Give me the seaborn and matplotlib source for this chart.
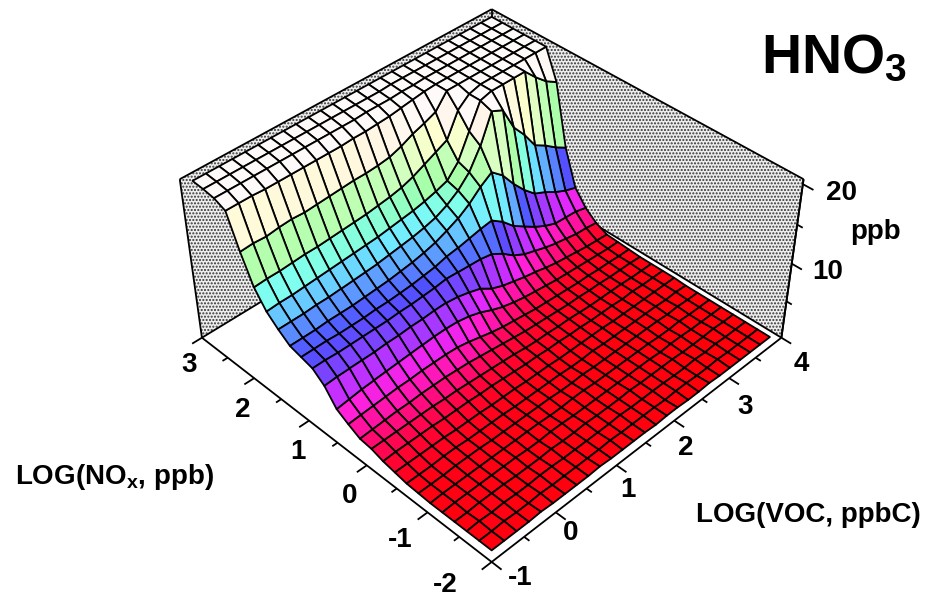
import numpy as np
import matplotlib
matplotlib.use("Agg")
import matplotlib.pyplot as plt
import seaborn as sns
from mpl_toolkits.mplot3d import proj3d
from mpl_toolkits.mplot3d.art3d import Poly3DCollection

voc_start, voc_stop = -0.9, 3.9
nox_start, nox_stop = -1.9, 2.9
voc_ticks = [-1, 0, 1, 2, 3, 4]
nox_ticks = [-2, -1, 0, 1, 2, 3]
z_ticks = [10, 20]

r00 = [.2,.2,.2,.2,.3,.2,.2,.2,.2,.3,.2,.2,.2,.2,.1,.2,.2,.1,.1,.2,.1,.1,.1,.1,.1,.1]
r01 = [.2,.2,.3,.2,.2,.3,.2,.2,.2,.2,.2,.3,.2,.2,.2,.2,.1,.2,.2,.1,.1,.2,.1,.1,.1,.1]
r02 = [.2,.3,.2,.3,.2,.2,.3,.3,.2,.2,.2,.2,.2,.3,.2,.2,.2,.2,.1,.1,.2,.1,.2,.1,.1,.1]
r03 = [.2,.2,.3,.3,.3,.2,.2,.2,.3,.2,.2,.3,.2,.2,.2,.3,.2,.2,.2,.2,.1,.1,.1,.2,.1,.1]
r04 = [.2,.3,.3,.3,.3,.3,.3,.2,.2,.3,.3,.2,.2,.2,.2,.2,.2,.2,.2,.1,.2,.2,.1,.1,.1,.1]
r05 = [.2,.3,.3,.3,.3,.3,.3,.3,.3,.3,.2,.2,.3,.3,.2,.2,.2,.2,.2,.2,.1,.1,.2,.1,.1,.1]
r06 = [.3,.3,.3,.4,.4,.4,.3,.3,.3,.3,.3,.3,.2,.2,.3,.2,.2,.2,.2,.2,.2,.2,.1,.2,.1,.1]
r07 = [.4,.4,.4,.5,.5,.4,.4,.4,.4,.3,.3,.3,.3,.3,.2,.2,.3,.2,.2,.2,.2,.2,.2,.1,.2,.1]
r08 = [.7,.7,.7,.7,.7,.6,.6,.6,.5,.5,.5,.4,.4,.4,.3,.3,.3,.3,.3,.2,.2,.2,.2,.2,.2,.2]
r09 = [1,1.1,1.1,1.1,1.1,1,1,1,.9,.9,.8,.7,.6,.6,.5,.5,.4,.4,.3,.3,.3,.2,.3,.2,.2,.2]
r10 = [1.5,1.5,1.5,1.5,1.5,1.5,1.4,1.4,1.3,1.2,1.1,1,.9,.7,.6,.6,.5,.5,.4,.3,.3,.3,.3,.2,.2,.2]
r11 = [1.7,1.8,1.9,2,2,2.1,2.1,2.1,2,1.9,1.7,1.5,1.3,1.1,.9,.8,.7,.6,.5,.5,.4,.4,.3,.3,.3,.2]
r12 = [2.5,2.6,2.7,2.8,2.9,2.9,3,3,3,2.9,2.6,2.2,1.8,1.5,1.3,1.1,.9,.8,.7,.6,.5,.5,.4,.4,.3,.3]
r13 = [3.4,3.6,3.8,3.9,4,4.1,4.2,4.3,4.4,4.4,4.3,4,3.5,2.8,2.2,1.8,1.5,1.3,1.1,.9,.8,.7,.6,.5,.4,.4]
r14 = [5.4,5.5,5.5,5.5,5.5,5.6,5.6,5.7,5.7,5.8,5.8,5.6,5.2,4.7,3.7,3.1,2.7,2.3,2,1.6,1.3,1.1,.9,.7,.6,.5]
r15 = [6.6,6.6,6.5,6.5,6.5,6.5,6.5,6.6,6.6,6.7,6.8,7,6.9,6.8,6.7,6.4,5.5,4.3,3.5,3,2.5,2.1,1.8,1.5,1.4,1.2]
r16 = [7,7,7,6.9,6.9,6.9,7,7,7.1,7.2,7.4,7.6,8,8.2,8.5,8.8,9,7.9,6.4,5.4,4.4,3.6,3,2.9,2.8,2.4]
r17 = [7.4,7.4,7.4,7.5,7.5,7.5,7.6,7.7,7.8,8,8.2,8.5,8.9,9.5,10.2,11.2,12.5,13.5,12.2,10.2,8.5,7.1,6.4,5.5,4.8,4.3]
r18 = [8.5,8.5,8.5,8.6,8.6,8.7,8.8,8.9,9,9.2,9.4,9.6,9.9,10.3,11,12,13.5,16,19.5,18.8,15.8,14,11.8,10.9,9.8,8.9]
r19 = [9.8,9.9,9.9,10,10.1,10.2,10.3,10.4,10.5,10.6,10.8,11,11.2,11.5,11.9,12.4,14,17,20,20.4,20.4,20.4,20.4,18.9,17.6,16.7]
r20 = [11.9,12,12,12.1,12.2,12.2,12.3,12.4,12.5,12.6,12.8,13,13.3,13.8,14.5,15.2,15.9,18.8,20,20.4,20.4,20.4,20.4,20.4,20.4,20.4]
r21 = [15.4,15.5,15.4,15.6,15.7,15.6,15.7,15.8,15.9,16,16,16.1,16.3,16.8,17.5,18,18.6,20.4,20.4,20.4,20.4,20.4,20.4,20.4,20.4,20.4]
r22 = [19.5,19.5,19.5,19.4,19.4,19.4,19.4,19.4,19.4,19.4,19.5,19.5,19.6,19.7,19.9,20.1,20.3,20.4,20.4,20.4,20.4,20.4,20.4,20.4,20.4,20.4]
r23 = [20.1,20.1,20.1,20.1,20.1,20.1,20.1,20.1,20.1,20.1,20.1,20.1,20.2,20.2,20.2,20.3,20.3,20.4,20.4,20.4,20.4,20.4,20.4,20.4,20.4,20.4]
r24 = [20.3,20.3,20.3,20.3,20.3,20.3,20.3,20.3,20.3,20.3,20.3,20.3,20.3,20.3,20.3,20.4,20.4,20.4,20.4,20.4,20.4,20.4,20.4,20.4,20.4,20.4]
r25 = [20.4] * 26

level_colors = ["#ff0006","#ff0438","#ff1098","#ff20d8","#e028ff","#a838ff","#7c44ff",
                "#5050ff","#5a90ff","#66c0ff","#70e8ff","#80fff0","#90ffc8","#a8ffa8",
                "#b8ffb0","#d0ffc0","#f0ffc8","#ffffd0","#fff5e5","#fffaf8","#fffafa"]

sns.set_theme(style="white")
plt.rcParams["font.family"] = ["Liberation Sans", "DejaVu Sans"]
plt.rcParams["mathtext.fontset"] = "custom"
plt.rcParams["mathtext.rm"] = "Liberation Sans:bold"
plt.rcParams["mathtext.default"] = "rm"
plt.rcParams["hatch.linewidth"] = 1.0

W, H = 930, 597
fig = plt.figure(figsize=(W / 100, H / 100), dpi=100, facecolor="white")
ax = fig.add_axes([0, 0, 1, 1], projection="3d")
ax.set_axis_off()
ax.computed_zorder = False

xlo, xhi, ylo, yhi, zlo, zhi = -1.0, 4.0, -2.0, 3.0, 0.0, 20.6
ax.set_xlim(xlo, xhi, view_margin=0)
ax.set_ylim(ylo, yhi, view_margin=0)
ax.set_zlim(zlo, zhi, view_margin=0)
ax.set_box_aspect((1, 1, 0.49))
ax.view_init(elev=40.5, azim=-135)
ax.set_proj_type("persp", focal_length=0.55)

# fit the axes box so that the 3D frame lands on the picture frame
frame = [(xlo, ylo, zlo, 492, 558), (xlo, yhi, zlo, 199, 338), (xhi, ylo, zlo, 784, 340),
         (xlo, yhi, zhi, 181, 181), (xhi, ylo, zhi, 802, 181), (xhi, yhi, zhi, 492, 7)]
M = ax.get_proj()
vx, vy, _ = proj3d.proj_transform([f[0] for f in frame], [f[1] for f in frame], [f[2] for f in frame], M)
vx, vy = np.asarray(vx), np.asarray(vy)
px = np.array([f[3] for f in frame], float)
py = H - np.array([f[4] for f in frame], float)
A = np.zeros((2 * len(frame), 3))
A[:len(frame), 0] = vx; A[:len(frame), 1] = 1
A[len(frame):, 0] = vy; A[len(frame):, 2] = 1
s, tx, ty = np.linalg.lstsq(A, np.r_[px, py], rcond=None)[0]
(v0x, v1x), (v0y, v1y) = ax.viewLim.intervalx, ax.viewLim.intervaly
ax.set_position([(tx + s * v0x) / W, (ty + s * v0y) / H, s * (v1x - v0x) / W, s * (v1y - v0y) / H])

# walls
wall_l = [(xlo, yhi, zlo), (xhi, yhi, zlo), (xhi, yhi, zhi), (xlo, yhi, zhi)]
wall_r = [(xhi, yhi, zlo), (xhi, ylo, zlo), (xhi, ylo, zhi), (xhi, yhi, zhi)]
for wall in (wall_l, wall_r):
    ax.add_collection3d(Poly3DCollection([wall], facecolor="#eeeeee", edgecolor="#333333",
                                         hatch=".....", linewidth=0, zorder=1))
k = dict(color="black", lw=1.3, zorder=2, solid_capstyle="butt")
for a, b in [((xlo, yhi, zlo), (xlo, yhi, zhi)), ((xlo, yhi, zhi), (xhi, yhi, zhi)),
             ((xhi, yhi, zhi), (xhi, ylo, zhi)), ((xhi, ylo, zhi), (xhi, ylo, zlo)),
             ((xlo, yhi, zlo), (xhi, yhi, zlo)), ((xhi, yhi, zlo), (xhi, ylo, zlo)),
             ((xhi, yhi, zlo), (xhi, yhi, zhi))]:
    ax.plot(*zip(a, b), **k)

# surface
voc = np.linspace(voc_start, voc_stop, 26)
nox = np.linspace(nox_start, nox_stop, 26)
X, Y = np.meshgrid(voc, nox)
Z = np.array([r00, r01, r02, r03, r04, r05, r06, r07, r08, r09, r10, r11, r12,
              r13, r14, r15, r16, r17, r18, r19, r20, r21, r22, r23, r24, r25], float)
cmap = sns.blend_palette(level_colors, as_cmap=True)
ax.plot_surface(X, Y, Z, rstride=1, cstride=1, cmap=cmap, vmin=0, vmax=20,
                edgecolor="black", linewidth=1.3, shade=False, antialiased=True, zorder=3)

# front axes and ticks
k2 = dict(color="black", lw=1.3, zorder=4, solid_capstyle="butt")
ax.plot([xlo, xlo], [ylo, yhi], [zlo, zlo], **k2)
ax.plot([xlo, xhi], [ylo, ylo], [zlo, zlo], **k2)
for t in np.arange(0, 11):
    L = 0.15 if t % 2 == 0 else 0.08
    ax.plot([xlo + t / 2, xlo + t / 2], [ylo, ylo - L], [zlo, zlo], **k2)
    ax.plot([xlo, xlo - L], [ylo + t / 2, ylo + t / 2], [zlo, zlo], **k2)
for zt in [5, 10, 15, 20]:
    L = 0.15 if zt in z_ticks else 0.08
    ax.plot([xhi, xhi], [ylo, ylo - L], [zt, zt], **k2)
ax.plot([xhi, xhi], [ylo, ylo], [zlo, zhi], **k2)

for art in list(ax.lines) + list(ax.collections):
    art.set_clip_on(False)


def label(x, y, s_, size=20, ha="center", va="center"):
    fig.text(x / W, 1 - y / H, s_, fontsize=size, fontweight="bold", ha=ha, va=va, color="black")


for t, (x_, y_) in zip(nox_ticks, [(445, 585), (400, 540), (350, 496), (298, 452), (243, 410), (189, 365)]):
    label(x_, y_, str(t))
for t, (x_, y_) in zip(voc_ticks, [(520, 578), (571, 533), (628, 490), (686, 448), (745, 407), (801, 364)]):
    label(x_, y_, str(t))
label(828, 272, "10"); label(841, 193, "20")
label(876, 232, "ppb")
label(15, 477, "LOG(NO$_{x}$, ppb)", size=20, ha="left")
label(696, 515, "LOG(VOC, ppbC)", size=20, ha="left")
label(761, 59, "HNO$_{3}$", size=40, ha="left")

fig.savefig("out.png", dpi=100, facecolor="white")
